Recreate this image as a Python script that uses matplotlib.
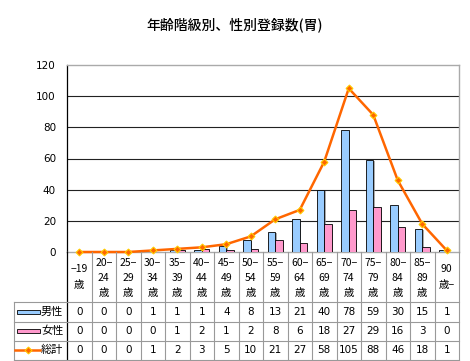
import matplotlib.pyplot as plt
import matplotlib.patheffects as pe
from matplotlib.patches import Rectangle
from matplotlib.lines import Line2D
import numpy as np

plt.rcParams['font.family'] = ['Noto Sans CJK JP', 'DejaVu Sans']

title = "年齢階級別、性別登録数(胃)"
categories = ["−19\n歳", "20−\n24\n歳", "25−\n29\n歳", "30−\n34\n歳", "35−\n39\n歳",
              "40−\n44\n歳", "45−\n49\n歳", "50−\n54\n歳", "55−\n59\n歳", "60−\n64\n歳",
              "65−\n69\n歳", "70−\n74\n歳", "75−\n79\n歳", "80−\n84\n歳", "85−\n89\n歳",
              "90\n歳−"]
male = [0, 0, 0, 1, 1, 1, 4, 8, 13, 21, 40, 78, 59, 30, 15, 1]
female = [0, 0, 0, 0, 1, 2, 1, 2, 8, 6, 18, 27, 29, 16, 3, 0]
total = [0, 0, 0, 1, 2, 3, 5, 10, 21, 27, 58, 105, 88, 46, 18, 1]
series_names = ["男性", "女性", "総計"]

W, H = 470, 361
fig = plt.figure(figsize=(W / 100, H / 100), dpi=100)
fig.patch.set_facecolor("white")

# plot area in pixels
x0, x1, y_top, y_bot = 67, 459, 65, 252
ax = fig.add_axes([x0 / W, 1 - y_bot / H, (x1 - x0) / W, (y_bot - y_top) / H])

n = len(categories)
x = np.arange(n)
shadow = [pe.SimplePatchShadow(offset=(1, -1), shadow_rgbFace="#888888", alpha=0.7), pe.Normal()]
bw = 0.3
ax.bar(x - bw / 2, male, bw, color="#99CCFF", edgecolor="black", linewidth=0.6,
       path_effects=shadow, zorder=3)
ax.bar(x + bw / 2, female, bw, color="#FF99CC", edgecolor="black", linewidth=0.6,
       path_effects=shadow, zorder=3)
ax.plot(x, total, color="#FF6600", lw=1.8, marker="D", ms=3.5, mfc="#FF6600",
        mec="#FFCC00", mew=0.8, zorder=4, clip_on=False)

ax.set_xlim(-0.5, n - 0.5)
ax.set_ylim(0, 120)
ax.set_yticks(range(0, 121, 20))
ax.set_yticklabels([str(v) for v in range(0, 121, 20)], fontsize=7.5, family="DejaVu Sans")
ax.tick_params(axis="y", length=0, pad=8)
ax.set_xticks([])
for v in range(20, 101, 20):
    ax.axhline(v, color="#222222", lw=0.8, zorder=1)
ax.spines["left"].set_color("black")
ax.spines["left"].set_linewidth(0.9)
for s in ["top", "right", "bottom"]:
    ax.spines[s].set_color("#AAAAAA")
    ax.spines[s].set_linewidth(1.0)

fig.text(235 / W, 1 - 25 / H, title, ha="center", va="center", fontsize=10, fontweight="medium")

# data table below the plot, y in pixel rows
tab = fig.add_axes([x0 / W, 0, (x1 - x0) / W, (H - y_bot) / H])
tab.set_xlim(-0.5, n - 0.5)
tab.set_ylim(H, y_bot)
tab.axis("off")


def px(p):
    return -0.5 + (p - x0) / 24.5


grid_c = "#999999"
row_lines = [302, 322, 341, 360]
xl = px(14)
for k in range(1, n + 1):
    tab.add_line(Line2D([k - 0.5, k - 0.5], [y_bot, 360], color=grid_c, lw=0.8, clip_on=False))
tab.add_line(Line2D([-0.5, -0.5], [y_bot, 360], color="black", lw=0.9, clip_on=False))
for yy in row_lines:
    tab.add_line(Line2D([xl, n - 0.5], [yy, yy], color=grid_c, lw=0.8, clip_on=False))
tab.add_line(Line2D([xl, xl], [302, 360], color=grid_c, lw=0.8, clip_on=False))

for i, lab in enumerate(categories):
    lines = lab.split("\n")
    if len(lines) == 3:
        ys = [263, 278, 293]
    else:
        ys = [269, 285]
    for t, yy in zip(lines, ys):
        tab.text(i, yy, t, ha="center", va="center", fontsize=7.5)

row_y = [312, 331, 350]
for vals, yy in zip([male, female, total], row_y):
    for i, v in enumerate(vals):
        tab.text(i, yy, str(v), ha="center", va="center", fontsize=7.5, family="DejaVu Sans")

# legend keys
tab.add_patch(Rectangle((px(17), row_y[0] - 2), px(40) - px(17), 4, facecolor="#99CCFF",
                        edgecolor="black", lw=0.6, clip_on=False))
tab.add_patch(Rectangle((px(17), row_y[1] - 2), px(40) - px(17), 4, facecolor="#FF99CC",
                        edgecolor="black", lw=0.6, clip_on=False))
tab.add_line(Line2D([px(15), px(40)], [row_y[2], row_y[2]], color="#FF6600", lw=1.8,
                    clip_on=False))
tab.add_line(Line2D([px(28)], [row_y[2]], marker="D", ms=3.5, mfc="#FF6600", mec="#FFCC00",
                    mew=0.8, clip_on=False))
for name, yy in zip(series_names, row_y):
    tab.text(px(41), yy, name, ha="left", va="center", fontsize=8)

fig.savefig("out.png", dpi=100)
